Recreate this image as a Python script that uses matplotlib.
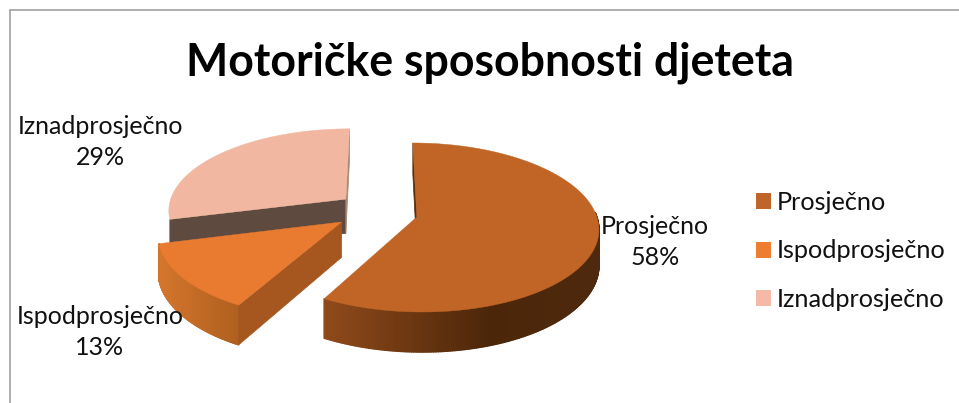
import numpy as np
import matplotlib
matplotlib.use('Agg')
import matplotlib.pyplot as plt
from matplotlib.collections import PolyCollection
from matplotlib.colors import to_rgb
from matplotlib.patches import Patch

plt.rcParams['font.family'] = ['Lato', 'DejaVu Sans']

# Chart data
title = 'Motoričke sposobnosti djeteta'
categories = ['Prosječno', 'Ispodprosječno', 'Iznadprosječno']
shares = [58, 13, 29]
legend_colors = ['#C0652A', '#ED7D31', '#F4B9A7']

# Perspective camera, fitted to the picture
X0, Y0 = 380.0, -452.0
FOCAL, HEIGHT, DIST = 1447.0, 3.717, 8.04
THICK = 0.195

# Slice styling, same order as categories
offsets = [(0.205, 0.0), (-0.212, -0.06), (-0.195, 0.22)]
top_colors = ['#C06526', '#E97B30', '#F2B7A0']
label_pos = [(655, 242), (100, 332), (100, 142)]


def project(x, v, z=0.0):
    scale = FOCAL / (DIST + v)
    return X0 + x * scale, Y0 + (HEIGHT - z) * scale


def arc_points(angle_a, angle_b, off, z=0.0, n=180):
    t = np.radians(np.linspace(angle_a, angle_b, n))
    return project(off[0] + np.cos(t), off[1] + np.sin(t), z)


def flat_face(ax, p1, p2, color):
    # side wall between two ground points
    x1, y1 = project(p1[0], p1[1])
    x2, y2 = project(p2[0], p2[1])
    x3, y3 = project(p2[0], p2[1], -THICK)
    x4, y4 = project(p1[0], p1[1], -THICK)
    ax.fill([x1, x2, x3, x4], [y1, y2, y3, y4], color=color, lw=0.5)


def curved_side(ax, angle_a, angle_b, off, stops, colors):
    # only the part of the rim that faces the viewer
    angle_a = min(angle_a, 3)
    xt, yt = arc_points(angle_a, angle_b, off)
    xb, yb = arc_points(angle_a, angle_b, off, -THICK)
    rgb = np.array([to_rgb(c) for c in colors])
    polys, cols = [], []
    for i in range(len(xt) - 1):
        polys.append([(xt[i], yt[i]), (xt[i + 1], yt[i + 1]),
                      (xb[i + 1], yb[i + 1]), (xb[i], yb[i])])
        xm = (xt[i] + xt[i + 1]) / 2
        cols.append([np.interp(xm, stops, rgb[:, k]) for k in range(3)])
    ax.add_collection(PolyCollection(polys, facecolors=cols, edgecolors=cols, linewidths=1.0))


def top_face(ax, angle_a, angle_b, off, color):
    xs, ys = arc_points(angle_a, angle_b, off)
    ax_, ay_ = project(off[0], off[1])
    ax.fill(np.r_[ax_, xs], np.r_[ay_, ys], color=color, lw=0.3)


# Slice angles, clockwise from the top
ends = 90 - np.cumsum(shares) * 3.6
starts = np.r_[90, ends[:-1]]


def edge(i, angle):
    t = np.radians(angle)
    return offsets[i][0] + np.cos(t), offsets[i][1] + np.sin(t)


fig = plt.figure(figsize=(9.59, 4.03), dpi=100)
ax = fig.add_axes([0, 0, 1, 1])
ax.set_xlim(0, 959)
ax.set_ylim(403, 0)
ax.axis('off')

# chart frame
ax.plot([10, 10, 959], [403, 10, 10], color='#A9A9A9', lw=1.3, solid_joinstyle='miter')

# back slice
flat_face(ax, offsets[2], edge(2, starts[2]), '#5E4A3F')
flat_face(ax, offsets[2], edge(2, ends[2]), '#A58877')
top_face(ax, starts[2], ends[2], offsets[2], top_colors[2])

# small front-left slice
curved_side(ax, starts[1], ends[1], offsets[1], [160, 236], ['#D4752C', '#B0601F'])
flat_face(ax, offsets[1], edge(1, starts[1]), '#A5571F')
top_face(ax, starts[1], ends[1], offsets[1], top_colors[1])

# big slice
flat_face(ax, offsets[0], edge(0, starts[0]), '#5A2E0E')
curved_side(ax, starts[0], ends[0], offsets[0], [324, 490, 597], ['#8F4A1B', '#4C2609', '#4F290D'])
top_face(ax, starts[0], ends[0], offsets[0], top_colors[0])

# labels
for name, share, pos in zip(categories, shares, label_pos):
    ax.text(pos[0], pos[1], f'{name}\n{share}%', ha='center', va='center',
            fontsize=18, color='#111111', linespacing=1.42)

ax.text(490, 63, title, ha='center', va='center', fontsize=32.1, fontweight='bold', color='black')

handles = [Patch(facecolor=c, edgecolor='none') for c in legend_colors]
ax.legend(handles, categories, loc='center left', bbox_to_anchor=(756, 251),
          bbox_transform=ax.transData, frameon=False, fontsize=18.2, borderpad=0,
          borderaxespad=0, handlelength=0.6, handleheight=0.6, handletextpad=0.24,
          labelspacing=1.02, labelcolor='#111111')

fig.savefig('out.png', dpi=100)
